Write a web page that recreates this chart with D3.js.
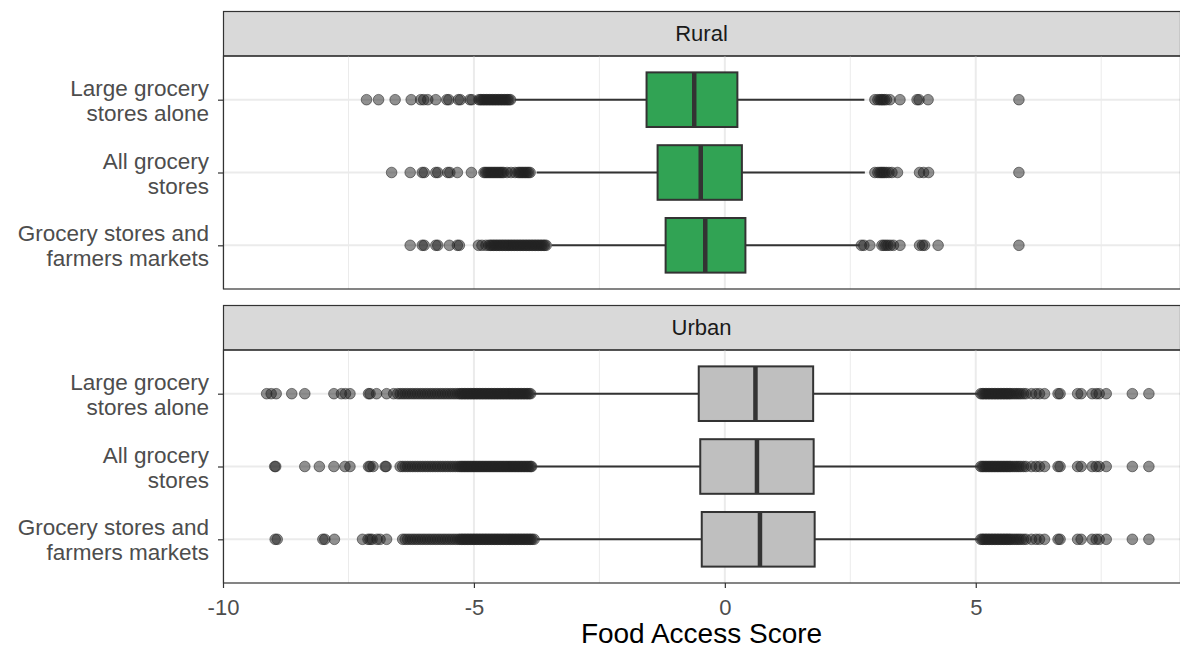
<!DOCTYPE html>
<html>
<head>
<meta charset="utf-8">
<script src="https://cdn.jsdelivr.net/npm/d3@7"></script>
<style>
  body { margin: 0; background: #fff; }
  text { font-family: "Liberation Sans", Arial, sans-serif; }
</style>
</head>
<body>
<div id="chart"></div>
<script>
const facets = ["Rural", "Urban"];
const categories = ["Large grocery stores alone", "All grocery stores", "Grocery stores and farmers markets"];
const categoryLines = [["Large grocery", "stores alone"], ["All grocery", "stores"], ["Grocery stores and", "farmers markets"]];
const xTicks = [-10, -5, 0, 5];
const xMinorTicks = [-7.5, -2.5, 2.5, 7.5];

// box stats per category (lower whisker, q1, median, q3, upper whisker)
const ruralLow = [-4.18, -3.75, -3.45];
const ruralQ1 = [-1.56, -1.34, -1.18];
const ruralMedian = [-0.61, -0.48, -0.39];
const ruralQ3 = [0.25, 0.34, 0.41];
const ruralHigh = [2.78, 2.79, 2.69];

const urbanLow = [-3.82, -3.79, -3.75];
const urbanQ1 = [-0.52, -0.49, -0.46];
const urbanMedian = [0.61, 0.64, 0.70];
const urbanQ3 = [1.76, 1.77, 1.79];
const urbanHigh = [5.08, 5.08, 5.08];

const ruralOutliers = [
  [-7.14, -6.90, -6.57, -6.25, -6.06, -6.00, -5.92, -5.76, -5.54, -5.50, -5.31, -5.27, -5.08, -5.04,
   -4.90, -4.87, -4.84, -4.81, -4.78, -4.75, -4.72, -4.69, -4.66, -4.63, -4.60, -4.57, -4.54, -4.51,
   -4.48, -4.45, -4.42, -4.39, -4.36, -4.33, -4.30, -4.27,
   2.99, 3.05, 3.09, 3.12, 3.15, 3.18, 3.22, 3.29, 3.49, 3.83, 3.87, 4.05, 5.86],
  [-6.64, -6.27, -6.03, -5.99, -5.76, -5.72, -5.52, -5.48, -5.33, -5.05,
   -4.80, -4.77, -4.74, -4.71, -4.68, -4.65, -4.62, -4.59, -4.56, -4.53, -4.50, -4.47, -4.44, -4.41,
   -4.34, -4.26, -4.18, -4.12, -4.09, -4.06, -4.03, -4.00, -3.97, -3.94, -3.91, -3.88,
   2.99, 3.05, 3.09, 3.12, 3.15, 3.18, 3.22, 3.27, 3.33, 3.44, 3.88, 3.96, 4.06, 5.86],
  [-6.27, -6.03, -5.99, -5.76, -5.72, -5.49, -5.33, -5.29, -4.91, -4.84, -4.76,
   -4.70, -4.67, -4.64, -4.61, -4.58, -4.55, -4.52, -4.49, -4.46, -4.43, -4.40, -4.37, -4.34, -4.31,
   -4.28, -4.25, -4.22, -4.19, -4.16, -4.13, -4.10, -4.07, -4.04, -4.01, -3.98, -3.95, -3.92, -3.89,
   -3.86, -3.83, -3.80, -3.77, -3.74, -3.71, -3.68, -3.65, -3.62, -3.59, -3.56,
   2.72, 2.77, 2.89, 3.13, 3.17, 3.21, 3.25, 3.30, 3.36, 3.49, 3.88, 3.94, 3.98, 4.25, 5.86]
];

// the dense urban clusters look the same in all three rows
const urbanLeftCluster = [
  -6.42, -6.37, -6.32, -6.27, -6.22, -6.17, -6.12, -6.07, -6.02, -5.97, -5.92, -5.87, -5.82, -5.77,
  -5.72, -5.67, -5.62, -5.57, -5.52, -5.47, -5.42, -5.37, -5.32,
  -5.28, -5.25, -5.22, -5.19, -5.16, -5.13, -5.10, -5.07, -5.04, -5.01, -4.98, -4.95, -4.92, -4.89,
  -4.86, -4.83, -4.80, -4.77, -4.74, -4.71, -4.68, -4.65, -4.62, -4.59, -4.56, -4.53, -4.50, -4.47,
  -4.44, -4.41, -4.38, -4.35, -4.32, -4.29, -4.26, -4.23, -4.20, -4.17, -4.14, -4.11, -4.08, -4.05,
  -4.02, -3.99, -3.96, -3.93, -3.90
];
const urbanRightCluster = [
  5.10, 5.13, 5.16, 5.19, 5.22, 5.25, 5.28, 5.31, 5.34, 5.37, 5.40, 5.43, 5.46, 5.49, 5.52, 5.55,
  5.58, 5.61, 5.64, 5.67, 5.70, 5.74, 5.78, 5.82, 5.86, 5.90, 5.95, 6.00, 6.11, 6.20, 6.27, 6.37,
  6.64, 6.68, 7.03, 7.10, 7.32, 7.40, 7.46, 7.60, 8.12, 8.45
];
const urbanOutliers = [
  [-9.13, -9.04, -8.94, -8.63, -8.37, -7.79, -7.64, -7.56, -7.47, -7.10, -7.07, -6.94, -6.74, -6.60,
   -6.52, -6.47, -3.87],
  [-8.97, -8.95, -8.37, -8.08, -7.79, -7.57, -7.47, -7.10, -7.07, -7.01, -6.77, -6.75, -6.47, -3.87, -3.85],
  [-8.96, -8.92, -8.01, -7.97, -7.78, -7.22, -7.11, -7.07, -7.03, -6.93, -6.87, -6.74, -3.87, -3.84, -3.80]
];

const boxColors = ["#31a354", "#bfbfbf"];

const width = 1180;
const height = 649;
const panelLeft = 223;
const panelRight = 1180;
const panelHeight = 233;
const stripHeight = 45;
const panelTops = [56, 350];

// build table from the arrays
const stats = [
  categories.map((c, i) => ({ cat: c, low: ruralLow[i], q1: ruralQ1[i], med: ruralMedian[i], q3: ruralQ3[i], high: ruralHigh[i],
    out: ruralOutliers[i] })),
  categories.map((c, i) => ({ cat: c, low: urbanLow[i], q1: urbanQ1[i], med: urbanMedian[i], q3: urbanQ3[i], high: urbanHigh[i],
    out: urbanOutliers[i].concat(urbanLeftCluster, urbanRightCluster) }))
];

const svg = d3.select("#chart")
  .append("svg")
  .attr("width", width)
  .attr("height", height);

const x = d3.scaleLinear()
  .domain([-10, 9.07])
  .range([panelLeft, panelRight]);

const y = d3.scalePoint()
  .domain(categories)
  .range([0, panelHeight])
  .padding(0.6);

const boxH = y.step() * 0.75;

facets.forEach((facet, fi) => {
  const g = svg.append("g")
    .attr("transform", `translate(0,${panelTops[fi]})`);

  // strip
  g.append("rect")
    .attr("x", panelLeft + 0.5)
    .attr("y", -stripHeight + 0.5)
    .attr("width", panelRight - panelLeft)
    .attr("height", stripHeight - 0.5)
    .attr("fill", "#d9d9d9")
    .attr("stroke", "#333")
    .attr("stroke-width", 1.2);

  g.append("text")
    .attr("x", (panelLeft + panelRight) / 2)
    .attr("y", -stripHeight / 2)
    .attr("dy", "0.36em")
    .attr("text-anchor", "middle")
    .attr("font-size", 22)
    .attr("fill", "#1a1a1a")
    .text(facet);

  // grid
  g.selectAll(".minor")
    .data(xMinorTicks)
    .enter()
    .append("line")
    .attr("x1", d => x(d)).attr("x2", d => x(d))
    .attr("y1", 0).attr("y2", panelHeight)
    .attr("stroke", "#ebebeb")
    .attr("stroke-width", 1);

  g.selectAll(".major")
    .data(xTicks)
    .enter()
    .append("line")
    .attr("x1", d => x(d)).attr("x2", d => x(d))
    .attr("y1", 0).attr("y2", panelHeight)
    .attr("stroke", "#ebebeb")
    .attr("stroke-width", 2);

  g.selectAll(".hgrid")
    .data(categories)
    .enter()
    .append("line")
    .attr("x1", panelLeft).attr("x2", panelRight)
    .attr("y1", d => y(d)).attr("y2", d => y(d))
    .attr("stroke", "#ebebeb")
    .attr("stroke-width", 2);

  const rows = g.selectAll(".row")
    .data(stats[fi])
    .enter()
    .append("g")
    .attr("transform", d => `translate(0,${y(d.cat)})`);

  rows.selectAll("circle")
    .data(d => d.out)
    .enter()
    .append("circle")
    .attr("cx", d => x(d))
    .attr("cy", 0)
    .attr("r", 5.3)
    .attr("fill", "#222")
    .attr("fill-opacity", 0.5)
    .attr("stroke", "#222")
    .attr("stroke-opacity", 0.55)
    .attr("stroke-width", 1);

  rows.append("line")
    .attr("x1", d => x(d.low)).attr("x2", d => x(d.q1))
    .attr("stroke", "#333").attr("stroke-width", 2);

  rows.append("line")
    .attr("x1", d => x(d.q3)).attr("x2", d => x(d.high))
    .attr("stroke", "#333").attr("stroke-width", 2);

  rows.append("rect")
    .attr("x", d => x(d.q1))
    .attr("y", -boxH / 2)
    .attr("width", d => x(d.q3) - x(d.q1))
    .attr("height", boxH)
    .attr("fill", boxColors[fi])
    .attr("stroke", "#333")
    .attr("stroke-width", 2);

  rows.append("line")
    .attr("x1", d => x(d.med)).attr("x2", d => x(d.med))
    .attr("y1", -boxH / 2).attr("y2", boxH / 2)
    .attr("stroke", "#333").attr("stroke-width", 4.5);

  // panel border
  g.append("rect")
    .attr("x", panelLeft + 0.5)
    .attr("y", 0)
    .attr("width", panelRight - panelLeft)
    .attr("height", panelHeight)
    .attr("fill", "none")
    .attr("stroke", "#333")
    .attr("stroke-width", 1.2);

  // y axis
  const yAxis = g.append("g")
    .attr("transform", `translate(${panelLeft},0)`)
    .call(d3.axisLeft(y).tickSize(5).tickPadding(9).tickFormat(""));
  yAxis.select(".domain").remove();
  yAxis.selectAll(".tick line").attr("stroke", "#333").attr("stroke-width", 1.2);

  const labels = g.selectAll(".ylab")
    .data(categories)
    .enter()
    .append("text")
    .attr("x", panelLeft - 14)
    .attr("y", d => y(d))
    .attr("text-anchor", "end")
    .attr("font-size", 22.5)
    .attr("fill", "#4d4d4d");

  labels.each(function(d, i) {
    const t = d3.select(this);
    categoryLines[i].forEach((line, li) => {
      t.append("tspan")
        .attr("x", panelLeft - 14)
        .attr("dy", li === 0 ? -4 : 25)
        .text(line);
    });
  });
});

// x axis on the lower panel
const xAxis = svg.append("g")
  .attr("transform", `translate(0,${panelTops[1] + panelHeight})`)
  .call(d3.axisBottom(x).tickValues(xTicks).tickSize(5).tickPadding(11).tickFormat(d => String(d)));
xAxis.select(".domain").remove();
xAxis.selectAll(".tick line").attr("stroke", "#333").attr("stroke-width", 1.2);
xAxis.selectAll(".tick text")
  .attr("font-size", 22)
  .attr("fill", "#4d4d4d")
  .style("font-family", "Liberation Sans, Arial, sans-serif");

svg.append("text")
  .attr("x", (panelLeft + panelRight) / 2)
  .attr("y", 643)
  .attr("text-anchor", "middle")
  .attr("font-size", 28)
  .attr("fill", "#000")
  .text("Food Access Score");
</script>
</body>
</html>
